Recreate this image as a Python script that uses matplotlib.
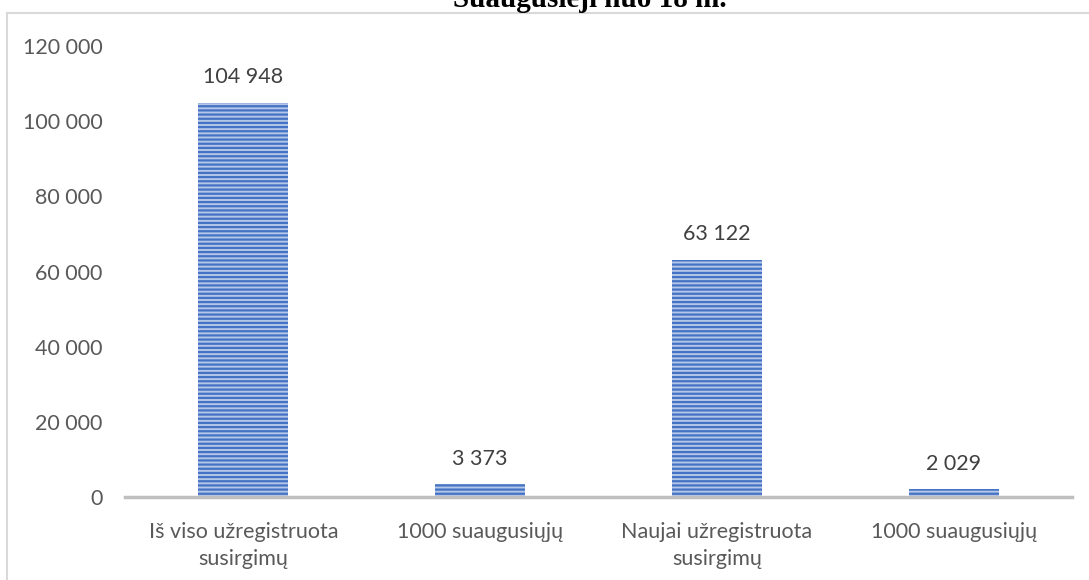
import matplotlib.pyplot as plt
import matplotlib as mpl
from matplotlib.lines import Line2D

# chart data
categories = ["Iš viso užregistruota\nsusirgimų", "1000 suaugusiųjų",
              "Naujai užregistruota\nsusirgimų", "1000 suaugusiųjų"]
values = [104948, 3373, 63122, 2029]
y_ticks = [0, 20000, 40000, 60000, 80000, 100000, 120000]
title = "Suaugusieji nuo 18 m."


def fmt(v):
    return f"{v:,}".replace(",", " ")


mpl.rcParams['hatch.linewidth'] = 1.6
mpl.rcParams['hatch.color'] = '#4472C4'

fig = plt.figure(figsize=(10.89, 5.80), dpi=100)
W, H = 1089, 580
ax = fig.add_axes([125 / W, 1 - 497 / H, (1072 - 125) / W, (497 - 46) / H])

x = range(len(values))
ax.bar(x, values, width=0.38, color='#B4C7E7', edgecolor='#4472C4',
       hatch='----', linewidth=0)

for i, v in zip(x, values):
    ax.annotate(fmt(v), (i, v), xytext=(0, 11), textcoords='offset points',
                ha='center', va='bottom', fontsize=15.5, color='#404040',
                family='Lato')

ax.set_xlim(-0.5, len(values) - 0.5)
ax.set_ylim(0, 120000)
ax.set_yticks(y_ticks)
ax.set_yticklabels([fmt(t) for t in y_ticks], family='Lato', fontsize=15.5,
                   color='#595959')
ax.set_xticks(list(x))
ax.set_xticklabels(categories, family='Lato', fontsize=15.5, color='#595959',
                   linespacing=1.45)
ax.tick_params(axis='both', length=0)
ax.tick_params(axis='y', pad=16)
ax.tick_params(axis='x', pad=18)

for s in ['top', 'right', 'left']:
    ax.spines[s].set_visible(False)
ax.spines['bottom'].set_color('#BFBFBF')
ax.spines['bottom'].set_linewidth(2.5)

# chart area border (partially cropped)
fig.add_artist(Line2D([7 / W, 1], [1 - 12.5 / H, 1 - 12.5 / H],
                      transform=fig.transFigure, color='#D9D9D9', lw=1.5))
fig.add_artist(Line2D([7 / W, 7 / W], [0, 1 - 12.5 / H],
                      transform=fig.transFigure, color='#D9D9D9', lw=1.5))

fig.text(590 / W, 1 - 7 / H, title, ha='center', va='baseline',
         family='Liberation Serif', fontweight='bold', fontsize=21)

fig.savefig('out.png', dpi=100)
